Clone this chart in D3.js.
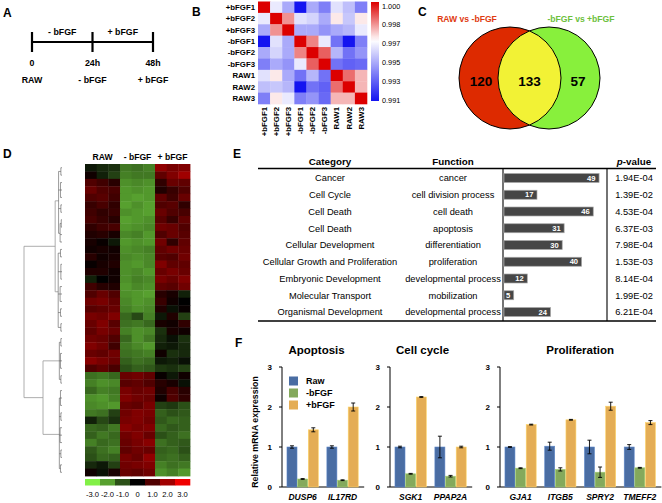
<!DOCTYPE html>
<html><head><meta charset="utf-8">
<script src="https://cdn.jsdelivr.net/npm/d3@7"></script>
<style>body{margin:0;background:#fff}svg{display:block;font-family:"Liberation Sans",Arial,Helvetica,sans-serif}</style>
</head><body><script>
// ---------------- DATA ----------------
// Panel A
const timePoints = [0, 24, 48];
const timeLabels = ["0", "24h", "48h"];
const conditionLabels = ["RAW", "- bFGF", "+ bFGF"];
const periodLabels = ["- bFGF", "+ bFGF"];

// Panel B
const samples = ["+bFGF1","+bFGF2","+bFGF3","-bFGF1","-bFGF2","-bFGF3","RAW1","RAW2","RAW3"];
const corr = [
  [1.0000,0.9960,0.9945,0.9910,0.9945,0.9935,0.9958,0.9950,0.9935],
  [0.9960,1.0000,0.9980,0.9958,0.9955,0.9945,0.9968,0.9952,0.9968],
  [0.9945,0.9980,1.0000,0.9945,0.9945,0.9940,0.9945,0.9948,0.9960],
  [0.9910,0.9958,0.9945,1.0000,0.9982,0.9960,0.9932,0.9910,0.9935],
  [0.9945,0.9955,0.9945,0.9982,1.0000,0.9987,0.9948,0.9932,0.9940],
  [0.9935,0.9945,0.9940,0.9960,0.9987,1.0000,0.9932,0.9928,0.9930],
  [0.9958,0.9968,0.9945,0.9932,0.9948,0.9932,1.0000,0.9985,0.9975],
  [0.9950,0.9952,0.9948,0.9910,0.9932,0.9928,0.9985,1.0000,0.9975],
  [0.9935,0.9968,0.9960,0.9935,0.9940,0.9930,0.9975,0.9975,1.0000]
];
const corrTicks = ["1.000","0.998","0.997","0.995","0.993","0.991"];

// Panel C
const vennSets = ["RAW vs -bFGF", "-bFGF vs +bFGF"];
const vennCounts = [120, 133, 57];

// Panel D
const heatGroups = ["RAW", "- bFGF", "+ bFGF"];
const heatColumns = ["RAW1","RAW2","RAW3","-bFGF1","-bFGF2","-bFGF3","+bFGF1","+bFGF2","+bFGF3"];
const heatRows = [
  [-0.3,-0.5,-0.6,-1.5,-1.4,-1.6, 1.8, 1.5, 1.6],
  [ 0.2,-0.4,-0.8,-1.6,-1.5,-1.5, 1.2, 1.6, 2.0],
  [ 1.0, 0.8, 0.5,-1.8,-1.7,-1.8, 0.6, 1.3, 1.2],
  [ 1.3, 1.0, 0.9,-1.9,-1.8,-1.9, 0.4, 0.7, 1.0],
  [ 1.0, 1.1, 0.8,-1.9,-2.0,-1.9, 1.2, 0.8, 1.3],
  [ 0.7, 0.9, 0.6,-2.0,-1.8,-2.0, 1.0, 1.1, 0.6],
  [ 0.8, 0.6, 0.7,-1.8,-1.9,-2.0, 1.3, 1.0, 0.9],
  [ 0.9, 0.7, 0.5,-2.0,-1.9,-1.8, 1.1, 0.7, 1.2],
  [ 0.6, 0.8, 0.9,-1.9,-1.8,-1.7, 1.4, 1.3, 1.0],
  [ 0.4, 0.5, 0.3,-1.7,-1.6,-1.9, 1.0, 1.3, 1.1],
  [ 0.3, 0.1,-0.3,-1.9,-1.8,-1.9, 1.4, 0.6, 1.2],
  [ 0.2, 0.3, 0.2,-1.8,-1.7,-1.6, 1.2, 1.4, 1.3],
  [ 0.5, 0.2, 0.3,-1.7,-1.8,-1.7, 1.1, 1.0, 1.4],
  [ 0.1, 0.3, 0.4,-1.8,-1.9,-1.7, 1.6, 1.2, 1.2],
  [ 0.4, 0.4, 0.2,-1.8,-1.7,-1.9, 1.3, 1.5, 1.3],
  [-0.4, 0.0, 0.2,-1.8,-1.6,-1.7, 1.5, 1.3, 1.6],
  [ 0.8, 0.5, 0.4,-1.9,-1.7,-1.8, 1.2, 1.1, 1.4],
  [ 1.0, 1.3, 1.0,-1.8,-1.9,-2.0, 0.5, 0.3,-0.4],
  [ 1.4, 1.5, 1.2,-1.7,-1.9,-1.8, 0.7, 0.2, 0.0],
  [ 1.1, 1.2, 1.3,-1.6,-1.8,-1.7, 0.4,-0.2, 0.1],
  [ 1.5, 1.4, 1.6,-1.3,-0.9,-1.6,-0.3, 0.4,-0.8],
  [ 1.3, 1.6, 1.1,-1.4,-1.5,-1.3, 0.3, 0.2, 0.6],
  [ 1.2, 1.5, 1.3,-1.6,-1.8,-1.7,-0.6, 0.3, 0.2],
  [ 1.4, 1.3, 1.0,-1.3,-1.8,-1.5,-0.5,-0.2,-0.6],
  [ 1.6, 1.4, 0.8,-1.5,-1.7,-1.9,-0.4,-0.3,-0.5],
  [ 1.3, 1.2, 1.4,-1.4,-1.5,-1.6, 0.2,-0.6,-0.5],
  [ 1.7, 1.5, 1.3,-1.2,-1.4,-1.3,-0.3,-0.4,-0.2],
  [ 1.0, 1.2, 0.9,-1.0,-1.2,-1.1,-0.7,-0.6,-0.8],
  [-1.4,-1.5,-1.3, 1.3, 1.4, 1.2, 0.1,-0.3, 0.2],
  [-1.6,-1.8,-1.7, 1.1, 1.2, 1.0, 0.5, 0.3,-0.2],
  [-1.3,-1.6,-1.5, 1.5, 1.3, 1.4, 0.4, 0.9, 0.5],
  [-1.8,-1.9,-1.6, 1.6, 1.4, 1.3, 0.2, 1.0, 0.6],
  [-1.7,-1.8,-1.9, 1.3, 1.2, 1.5,-0.8,-0.7,-1.0],
  [-1.5,-1.4,-0.8, 1.4, 1.6, 1.5,-1.2,-1.0,-1.1],
  [-0.4,-0.9,-0.6, 1.5, 1.6, 1.4,-1.1,-1.3,-1.2],
  [-1.3,-1.2,-1.5, 1.7, 1.5, 1.6,-1.3,-1.1,-1.2],
  [-1.2,-1.5,-1.3, 1.4, 1.6, 1.3,-1.0,-1.2,-1.4],
  [-1.6,-1.3,-1.4, 1.3, 1.5, 1.7,-1.4,-1.2,-1.1],
  [-1.1,-1.4,-1.6, 1.2, 1.4, 1.3,-1.2,-1.3,-1.0],
  [-1.0,-1.3,-1.2, 1.5, 1.3, 1.8,-1.3,-1.4,-1.2],
  [-0.5,-0.3,-0.8, 1.4, 1.5, 1.6,-1.6,-1.4,-1.5],
  [ 0.2,-0.2, 0.3, 1.3, 1.2, 1.4,-1.8,-1.6,-1.9]
];
const heatLegend = [-3, -2, -1, 0, 1, 2, 3];
// dendrogram: node(mergeHeight, ...children); numbers are row indices
function node(h, ...c) { return { h, children: c.map(x => typeof x === "number" ? { h: 0, leaf: x } : x) }; }
const dendrogram = node(1.0,
  node(0.18,
    node(0.09, node(0.03,0,1), node(0.04,2,3,4), node(0.03,5,6), node(0.05, node(0.02,7,8), 9, 10)),
    node(0.10, node(0.04,11,12), node(0.03,13,14,15), node(0.05,16,17,18), node(0.04,19,20), node(0.03,21,22))),
  node(0.50,
    node(0.07, node(0.03,23,24), node(0.04,25,26,27), node(0.03,28,29)),
    node(0.07, node(0.04,30,31,32), node(0.03,33,34), node(0.05,35,36,37), node(0.03,38,39), node(0.04,40,41))));

// Panel E
const categories = ["Cancer","Cell Cycle","Cell Death","Cell Death","Cellular Development","Cellular Growth and Proliferation","Embryonic Development","Molecular Transport","Organismal Development"];
const functions = ["cancer","cell division process","cell death","apoptosis","differentiation","proliferation","developmental process","mobilization","developmental process"];
const geneCounts = [49, 17, 46, 31, 30, 40, 12, 5, 24];
const pValues = ["1.94E-04","1.39E-02","4.53E-04","6.37E-03","7.98E-04","1.53E-03","8.14E-04","1.99E-02","6.21E-04"];

// Panel F
const series = ["Raw", "-bFGF", "+bFGF"];
const seriesColors = ["#4a6da3", "#84a95c", "#e4ad55"];
const panelTitles = ["Apoptosis", "Cell cycle", "Proliferation"];
const panelGenes = [["DUSP6","IL17RD"], ["SGK1","PPAP2A"], ["GJA1","ITGB5","SPRY2","TMEFF2"]];
const panelMeans = [
  [[1.00,0.20,1.43],[1.00,0.17,2.00]],
  [[1.00,0.33,2.25],[1.00,0.27,1.00]],
  [[1.00,0.47,1.56],[1.02,0.44,1.68],[1.00,0.37,2.02],[1.00,0.48,1.61]]
];
const panelErrors = [
  [[0.03,0.01,0.05],[0.03,0.01,0.10]],
  [[0.02,0.01,0.01],[0.27,0.02,0.02]],
  [[0.01,0.01,0.01],[0.10,0.04,0.01],[0.17,0.13,0.10],[0.06,0.01,0.05]]
];
const yTicks = [0, 1, 2, 3];

// ---------------- DRAWING ----------------
const svg = d3.select("body").append("svg").attr("width", 662).attr("height", 503);

// panel letters
[["A",3,17],["B",192,16],["C",418,16],["D",3,158],["E",233,158],["F",235,347]].forEach(([t,x,y]) =>
  svg.append("text").attr("x",x).attr("y",y).attr("font-size",12).attr("font-weight","bold").text(t));

// ---- Panel A ----
{
  const g = svg.append("g").attr("font-weight","bold").attr("font-size",8.8);
  const x = d3.scaleLinear().domain([0,48]).range([32,153]);
  g.append("line").attr("x1",x(0)).attr("x2",x(48)).attr("y1",42).attr("y2",42).attr("stroke","#000").attr("stroke-width",2);
  g.selectAll(".tk").data(timePoints).join("line").attr("x1",d=>x(d)).attr("x2",d=>x(d))
    .attr("y1",32).attr("y2",52).attr("stroke","#000").attr("stroke-width",2.2);
  g.selectAll(".pl").data(periodLabels).join("text")
    .attr("x",(d,i)=>(x(timePoints[i])+x(timePoints[i+1]))/2).attr("y",35).attr("text-anchor","middle").text(d=>d);
  g.selectAll(".tl").data(timeLabels).join("text")
    .attr("x",(d,i)=>x(timePoints[i])).attr("y",66).attr("text-anchor","middle").text(d=>d);
  g.selectAll(".cl").data(conditionLabels).join("text")
    .attr("x",(d,i)=>x(timePoints[i])).attr("y",83).attr("text-anchor","middle").text(d=>d);
}

// ---- Panel B ----
{
  const g = svg.append("g");
  const x = d3.scaleBand().domain(samples).range([258,367]);
  const y = d3.scaleBand().domain(samples).range([1.5,104]);
  const color = d3.scaleLinear().domain([0.991,0.9965,1.0]).range(["#1414f0","#ffffff","#dc0000"]);
  corr.forEach((row,i) => row.forEach((v,j) => {
    g.append("rect").attr("x",x(samples[j])).attr("y",y(samples[i]))
      .attr("width",x.bandwidth()+0.3).attr("height",y.bandwidth()+0.3).attr("fill",color(v));
  }));
  g.selectAll(".rl").data(samples).join("text").attr("x",255).attr("y",d=>y(d)+y.bandwidth()/2)
    .attr("dy","0.35em").attr("text-anchor","end").attr("font-size",7.8).attr("font-weight","bold").text(d=>d);
  g.selectAll(".cl").data(samples).join("text")
    .attr("transform",d=>`translate(${x(d)+x.bandwidth()/2},107) rotate(-90)`)
    .attr("dy","0.35em").attr("text-anchor","end").attr("font-size",7.8).attr("font-weight","bold").text(d=>d);
  // colorbar
  const cb = d3.scaleLinear().domain([0.991,1.0]).range([101,2]);
  const grad = svg.append("defs").append("linearGradient").attr("id","cbg").attr("x1",0).attr("x2",0).attr("y1",0).attr("y2",1);
  d3.range(0,1.0001,0.05).forEach(t => grad.append("stop").attr("offset",t).attr("stop-color",color(cb.invert(2+99*t))));
  g.append("rect").attr("x",371).attr("y",2).attr("width",8).attr("height",99).attr("fill","url(#cbg)");
  const ty = d3.scalePoint().domain(corrTicks).range([6,100]);
  g.selectAll(".cbl").data(corrTicks).join("text").attr("x",382).attr("y",d=>ty(d)).attr("dy","0.35em")
    .attr("font-size",7.3).text(d=>d);
}

// ---- Panel C ----
{
  const g = svg.append("g");
  const cx = d3.scaleOrdinal().domain(vennSets).range([510,549]);
  const r = 51, cy = 78;
  const defs = svg.append("defs");
  defs.append("clipPath").attr("id","clipRed").append("circle").attr("cx",cx(vennSets[0])).attr("cy",cy).attr("r",r);
  g.append("circle").attr("cx",cx(vennSets[0])).attr("cy",cy).attr("r",r).attr("fill","#dd2a00");
  g.append("circle").attr("cx",cx(vennSets[1])).attr("cy",cy).attr("r",r).attr("fill","#88f03c");
  g.append("circle").attr("cx",cx(vennSets[1])).attr("cy",cy).attr("r",r).attr("fill","#f2f235").attr("clip-path","url(#clipRed)");
  vennSets.forEach(s => g.append("circle").attr("cx",cx(s)).attr("cy",cy).attr("r",r).attr("fill","none").attr("stroke","#000").attr("stroke-width",1));
  g.selectAll(".vl").data(vennSets).join("text").attr("x",(d,i)=>[467,581][i]).attr("y",22)
    .attr("text-anchor","middle").attr("font-size",8.6).attr("font-weight","bold")
    .attr("fill",(d,i)=>["#e03a10","#6cc03c"][i]).text(d=>d);
  const nx = [481, (cx(vennSets[0])+cx(vennSets[1]))/2, 578];
  g.selectAll(".vn").data(vennCounts).join("text").attr("x",(d,i)=>nx[i]).attr("y",86)
    .attr("text-anchor","middle").attr("font-size",13.5).attr("font-weight","bold").text(d=>d);
}

// ---- Panel D ----
{
  const g = svg.append("g");
  const x = d3.scaleBand().domain(heatColumns).range([85,190]);
  const y = d3.scaleBand().domain(d3.range(heatRows.length)).range([164,476]);
  const color = d3.scaleLinear().domain([-3,0,3]).range(["#82f046","#000000","#f00000"]);
  heatRows.forEach((row,i) => row.forEach((v,j) => {
    g.append("rect").attr("x",x(heatColumns[j])).attr("y",y(i)).attr("width",x.bandwidth()+0.4)
      .attr("height",y.bandwidth()+0.4).attr("fill",color(v));
  }));
  g.selectAll(".hg").data(heatGroups).join("text")
    .attr("x",(d,i)=>x(heatColumns[i*3+1])+x.bandwidth()/2).attr("y",160)
    .attr("text-anchor","middle").attr("font-size",8.6).attr("font-weight","bold").text(d=>d);
  // legend
  const lx = d3.scaleBand().domain(heatLegend).range([85,190]);
  g.selectAll(".lg").data(heatLegend).join("rect").attr("x",d=>lx(d)).attr("y",479)
    .attr("width",lx.bandwidth()+0.3).attr("height",6.5).attr("fill",d=>color(d));
  g.selectAll(".lt").data(heatLegend).join("text").attr("x",d=>lx(d)+lx.bandwidth()/2).attr("y",497)
    .attr("text-anchor","middle").attr("font-size",7.6).text(d=>d===0?"0":d.toFixed(1));
  // dendrogram
  const dx = d3.scaleLinear().domain([0,1]).range([62,24]);
  const root = d3.hierarchy(dendrogram);
  root.eachAfter(n => {
    n.px = dx(n.data.h);
    n.py = n.children ? d3.mean(n.children, c => c.py) : y(n.data.leaf) + y.bandwidth()/2;
  });
  const dg = g.append("g").attr("fill","none");
  root.each(n => {
    if (!n.children) return;
    const col = n.data.h > 0.15 ? "#999" : "#555";
    const w = n.data.h > 0.15 ? 0.8 : 0.6;
    dg.append("line").attr("x1",n.px).attr("x2",n.px).attr("y1",d3.min(n.children,c=>c.py)).attr("y2",d3.max(n.children,c=>c.py))
      .attr("stroke",col).attr("stroke-width",w);
    n.children.forEach(c => dg.append("line").attr("x1",n.px).attr("x2",c.px).attr("y1",c.py).attr("y2",c.py)
      .attr("stroke",col).attr("stroke-width",w));
  });
}

// ---- Panel E ----
{
  const g = svg.append("g");
  const y = d3.scalePoint().domain(d3.range(categories.length)).range([178,312]);
  const bx = d3.scaleLinear().domain([0,50]).range([504,601]);
  const hdr = g.append("g").attr("font-size",9.8).attr("font-weight","bold").attr("text-anchor","middle");
  hdr.append("text").attr("x",330).attr("y",165).text("Category");
  hdr.append("text").attr("x",453).attr("y",165).text("Function");
  const pv = hdr.append("text").attr("x",634).attr("y",165);
  pv.append("tspan").attr("font-style","italic").text("p");
  pv.append("tspan").text("-value");
  g.append("line").attr("x1",258).attr("x2",656).attr("y1",168.5).attr("y2",168.5).attr("stroke","#000").attr("stroke-width",1.3);
  g.append("line").attr("x1",258).attr("x2",656).attr("y1",321).attr("y2",321).attr("stroke","#000").attr("stroke-width",1.3);
  [503,607].forEach(vx => g.append("line").attr("x1",vx).attr("x2",vx).attr("y1",168).attr("y2",321).attr("stroke","#000").attr("stroke-width",1.1));
  const t = g.append("g").attr("font-size",9.3).attr("text-anchor","middle");
  t.selectAll(".cat").data(categories).join("text").attr("x",330).attr("y",(d,i)=>y(i)).attr("dy","0.35em").text(d=>d);
  t.selectAll(".fn").data(functions).join("text").attr("x",453).attr("y",(d,i)=>y(i)).attr("dy","0.35em").text(d=>d);
  t.selectAll(".pv").data(pValues).join("text").attr("x",634).attr("y",(d,i)=>y(i)).attr("dy","0.35em").text(d=>d);
  g.selectAll(".bar").data(geneCounts).join("rect").attr("x",bx(0)).attr("y",(d,i)=>y(i)-4.5)
    .attr("width",d=>bx(d)-bx(0)).attr("height",9).attr("fill","#464646").attr("stroke","#a8a8a8").attr("stroke-width",0.7);
  g.selectAll(".bl").data(geneCounts).join("text").attr("x",d=>bx(d)-3.5).attr("y",(d,i)=>y(i)).attr("dy","0.35em")
    .attr("text-anchor","end").attr("font-size",7.6).attr("font-weight","bold").attr("fill","#fff").text(d=>d);
}

// ---- Panel F ----
{
  const g = svg.append("g");
  const y = d3.scaleLinear().domain([0,3]).range([487,367]);
  const axisX = [282, 390, 500];
  g.append("text").attr("transform","translate(255,432) rotate(-90)").attr("text-anchor","middle")
    .attr("dy","0.35em").attr("font-size",8.8).attr("font-weight","bold").text("Relative mRNA expression");
  panelTitles.forEach((title, p) => {
    const ax = axisX[p];
    const genes = panelGenes[p];
    const W = 39.6 * genes.length;
    const x0 = d3.scaleBand().domain(genes).range([ax+1, ax+1+W]).paddingInner(0.215).paddingOuter(0.1);
    const x1 = d3.scaleBand().domain(series).range([0, x0.bandwidth()]).paddingInner(0.06);
    const pg = g.append("g");
    // axis
    pg.append("line").attr("x1",ax).attr("x2",ax).attr("y1",y(3)).attr("y2",y(0)).attr("stroke","#000").attr("stroke-width",1);
    pg.append("line").attr("x1",ax).attr("x2",ax+W+3).attr("y1",y(0)).attr("y2",y(0)).attr("stroke","#000").attr("stroke-width",1);
    pg.selectAll(".tk").data(yTicks).join("line").attr("x1",ax-3).attr("x2",ax).attr("y1",d=>y(d)).attr("y2",d=>y(d)).attr("stroke","#000");
    pg.selectAll(".tl").data(yTicks).join("text").attr("x",ax-10).attr("y",d=>y(d)).attr("dy","0.35em")
      .attr("text-anchor","end").attr("font-size",8).attr("font-weight","bold").text(d=>d);
    pg.append("text").attr("x",ax+1+W/2+(p===0?-6:0)+ (p===1?-8:0)).attr("y",354).attr("text-anchor","middle")
      .attr("font-size",11.5).attr("font-weight","bold").text(title);
    genes.forEach((gene, gi) => {
      series.forEach((s, si) => {
        const v = panelMeans[p][gi][si], e = panelErrors[p][gi][si];
        const bxp = x0(gene) + x1(s);
        pg.append("rect").attr("x",bxp).attr("y",y(v)).attr("width",x1.bandwidth()).attr("height",y(0)-y(v))
          .attr("fill",seriesColors[si]).attr("stroke",d3.color(seriesColors[si]).brighter(0.6)).attr("stroke-width",0.6);
        const cxp = bxp + x1.bandwidth()/2;
        pg.append("line").attr("x1",cxp).attr("x2",cxp).attr("y1",y(v+e)).attr("y2",y(v-e)).attr("stroke","#000").attr("stroke-width",0.9);
        [v+e, v-e].forEach(ev => pg.append("line").attr("x1",cxp-2).attr("x2",cxp+2).attr("y1",y(ev)).attr("y2",y(ev)).attr("stroke","#000").attr("stroke-width",0.9));
      });
    });
    pg.selectAll(".gl").data(genes).join("text").attr("x",d=>x0(d)+x0.bandwidth()/2).attr("y",500)
      .attr("text-anchor","middle").attr("font-size",8.5).attr("font-weight","bold").attr("font-style","italic").text(d=>d);
    if (p === 0) {
      const ly = d3.scalePoint().domain(series).range([381,405]);
      pg.selectAll(".lr").data(series).join("rect").attr("x",289).attr("y",d=>ly(d)-4.5).attr("width",9).attr("height",9)
        .attr("fill",(d,i)=>seriesColors[i]);
      pg.selectAll(".ltx").data(series).join("text").attr("x",306).attr("y",d=>ly(d)).attr("dy","0.35em")
        .attr("font-size",9).attr("font-weight","bold").text(d=>d);
    }
  });
}
</script></body></html>
